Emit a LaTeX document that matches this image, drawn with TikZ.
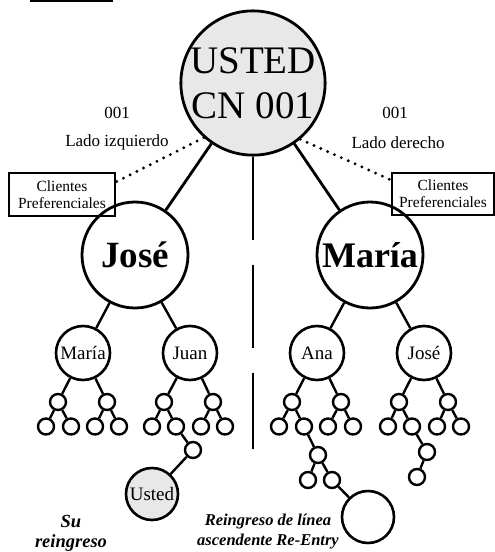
\documentclass[tikz,border=0pt]{standalone}
\usepackage{fontspec}
\setmainfont{Liberation Serif}
\usetikzlibrary{calc}
\definecolor{lightg}{HTML}{E8E8E8}
\begin{document}
\begin{tikzpicture}[x=1pt,y=-1pt,
  bigc/.style={circle,draw,line width=2.8pt,minimum size=#1,inner sep=0pt},
  namec/.style={circle,draw,line width=2.6pt,minimum size=54pt,inner sep=0pt,font=\fontsize{19}{22}\selectfont},
  smallc/.style={circle,draw,line width=2.4pt,minimum size=16pt,inner sep=0pt},
  edge/.style={line width=2.4pt},
  bigedge/.style={line width=2.8pt},
  dotline/.style={line width=3.2pt,line cap=round,dash pattern=on 0pt off 7.5pt},
  prefbox/.style={draw,line width=2.2pt,align=center,inner sep=2pt,font=\fontsize{15.5}{17}\selectfont},
  sidetext/.style={font=\fontsize{17}{20}\selectfont},
  labeltext/.style={align=center,font=\fontsize{#1}{20}\selectfont\bfseries\itshape}
]
\useasboundingbox (0,0) rectangle (495,552);

% top bar
\coordinate (barL) at (30,1);
\coordinate (barR) at (113,1);
\draw[line width=2.5pt] (barL) -- (barR);

% main nodes
\node[bigc=144pt,fill=lightg,align=center,font=\fontsize{39}{45}\selectfont] (usted) at (253,83) {USTED\\CN 001};
\node[bigc=106pt,font=\fontsize{37}{40}\selectfont\bfseries] (jose) at (135,255) {José};
\node[bigc=106pt,font=\fontsize{36}{40}\selectfont\bfseries] (maria) at (370,255) {María};

\draw[bigedge] (usted) -- (jose);
\draw[bigedge] (usted) -- (maria);

% side texts
\node[sidetext] (n001l) at (117,113) {001};
\node[sidetext] (ladol) at (117,142) {Lado izquierdo};
\node[sidetext] (n001r) at (395,113) {001};
\node[sidetext] (lador) at (398,143) {Lado derecho};

% boxes
\node[prefbox,minimum width=106pt,minimum height=43pt] (lbox) at (62,194.5) {Clientes\\Preferenciales};
\node[prefbox,minimum width=102pt,minimum height=42pt] (rbox) at (443,194) {Clientes\\Preferenciales};

\draw[dotline] (usted.-132) -- ([yshift=-10pt]lbox.north east);
\draw[dotline] (usted.-50) -- ([yshift=-8pt]rbox.north west);

% vertical dashed
\coordinate (vend) at (253,449);
\draw[line width=2.6pt,dash pattern=on 83pt off 25pt] (usted.south) -- (vend);

% level 2
\node[namec] (m1) at (83,353) {María};
\node[namec] (j1) at (190,353) {Juan};
\node[namec] (a1) at (317,353) {Ana};
\node[namec] (j2) at (424,353) {José};
\draw[edge] (jose) -- (m1);
\draw[edge] (jose) -- (j1);
\draw[edge] (maria) -- (a1);
\draw[edge] (maria) -- (j2);

% level 3
\foreach \n/\x in {m1a/58,m1b/107,j1a/164,j1b/213,a1a/292,a1b/341,j2a/399,j2b/448}
  \node[smallc] (\n) at (\x,402) {};
% level 4
\foreach \n/\x in {m1aa/46,m1ab/71,m1ba/95,m1bb/119,j1aa/152,j1ab/176,j1ba/201,j1bb/225,
                   a1aa/279,a1ab/304,a1ba/328,a1bb/353,j2aa/388,j2ab/412,j2ba/437,j2bb/461}
  \node[smallc] (\n) at (\x,426.5) {};

% chains
\node[smallc] (c1) at (193,450) {};
\node[bigc=52pt,line width=2.6pt,fill=lightg,font=\fontsize{19}{22}\selectfont] (yo) at (152,494) {Usted};
\node[smallc] (c2) at (318,455) {};
\node[smallc] (c3) at (308,480) {};
\node[smallc] (c4) at (332,480) {};
\node[bigc=52pt,line width=2.6pt] (reentry) at (368,517) {};
\node[smallc] (c5) at (427,452) {};
\node[smallc] (c6) at (417,477) {};

\foreach \p/\c in {m1/m1a,m1/m1b,j1/j1a,j1/j1b,a1/a1a,a1/a1b,j2/j2a,j2/j2b,
                   m1a/m1aa,m1a/m1ab,m1b/m1ba,m1b/m1bb,j1a/j1aa,j1a/j1ab,j1b/j1ba,j1b/j1bb,
                   a1a/a1aa,a1a/a1ab,a1b/a1ba,a1b/a1bb,j2a/j2aa,j2a/j2ab,j2b/j2ba,j2b/j2bb,
                   j1ab/c1,c1/yo,a1ab/c2,c2/c3,c2/c4,c4/reentry,j2ab/c5,c5/c6}
  \draw[edge] (\p) -- (\c);

% labels
\node[labeltext=18.5] (lab1) at (71,533) {Su\\reingreso};
\node[labeltext=16.5] (lab2) at (268,532) {Reingreso de línea\\ascendente Re-Entry};
\end{tikzpicture}
\end{document}
